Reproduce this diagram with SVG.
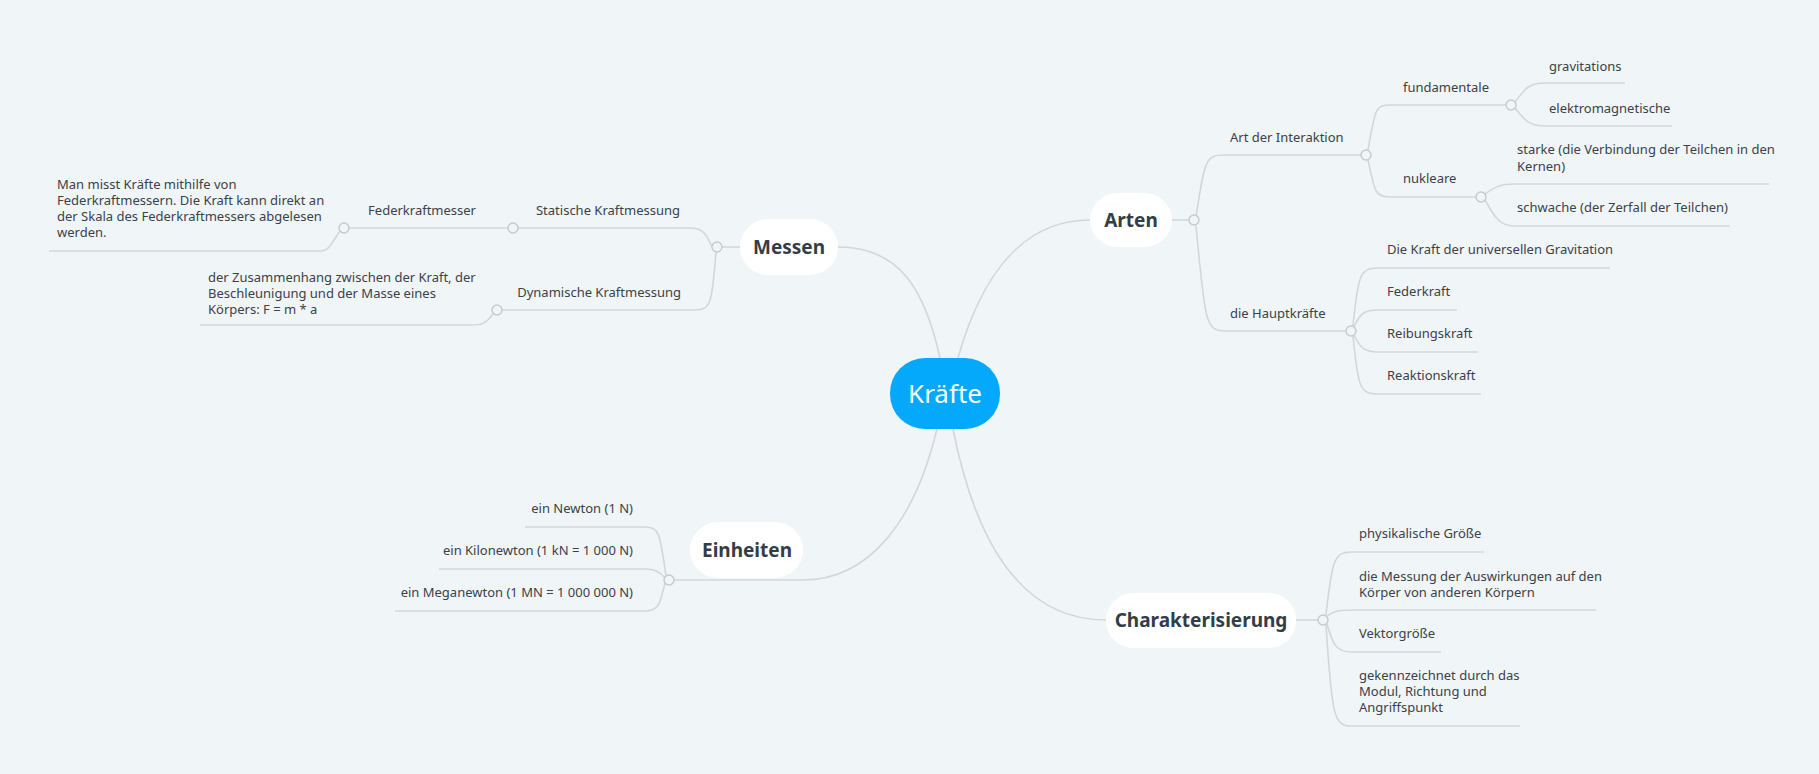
<svg xmlns="http://www.w3.org/2000/svg" width="1819" height="774" viewBox="0 0 1819 774">
<style>
.c{fill:none;stroke:#d3d7db;stroke-width:1.6}
.d{fill:#f0f5f8;stroke:#c5cacf;stroke-width:1.4}
.t{font-family:"Noto Sans","Open Sans",sans-serif;font-size:13px;fill:#3b4249}
.n{font-family:"Noto Sans","Open Sans",sans-serif;font-size:19px;font-weight:bold;fill:#333d47;text-anchor:middle}
.b{fill:#ffffff}
.r{text-anchor:end}
</style>
<rect width="1819" height="774" fill="#f0f5f8"/>
<g id="connectors">
<path class="c" d="M940 358 C925 290,900 247,838 247"/>
<path class="c" d="M958 358 C980 280,1020 220,1090 220"/>
<path class="c" d="M937 429 C915 520,870 580,803 580 L674 580"/>
<path class="c" d="M953 429 C975 540,1020 620,1106 620"/>
<path class="c" d="M740 247 L722 247"/>
<path class="c" d="M712 247 C705 230,700 228,689 228 L518 228"/>
<path class="c" d="M716 252 C712 300,712 310,695 310 L502 310"/>
<path class="c" d="M508 228 L349 228"/>
<path class="c" d="M340 231 C330 245,330 251,318 251 L49 251"/>
<path class="c" d="M493 314 C485 325,480 325,470 325 L200 325"/>
<path class="c" d="M1172 220 L1189 220"/>
<path class="c" d="M1196 216 C1205 160,1205 155,1225 155 L1361 155"/>
<path class="c" d="M1196 226 C1205 320,1205 331,1225 331 L1346 331"/>
<path class="c" d="M1368 150 C1375 110,1375 105,1390 105 L1506 105"/>
<path class="c" d="M1368 160 C1375 192,1375 197,1390 197 L1476 197"/>
<path class="c" d="M1515 102 C1525 88,1530 83,1545 83 L1625 83"/>
<path class="c" d="M1515 108 C1525 121,1530 126,1545 126 L1672 126"/>
<path class="c" d="M1485 194 C1495 187,1500 184,1515 184 L1769 184"/>
<path class="c" d="M1485 200 C1495 218,1500 226,1515 226 L1730 226"/>
<path class="c" d="M1353 326 C1358 275,1360 268,1378 268 L1610 268"/>
<path class="c" d="M1354 327 C1360 313,1365 310,1378 310 L1457 310"/>
<path class="c" d="M1354 335 C1360 348,1365 352,1378 352 L1478 352"/>
<path class="c" d="M1353 336 C1358 388,1360 394,1378 394 L1481 394"/>
<path class="c" d="M1296 620 L1318 620"/>
<path class="c" d="M1326 615 C1332 560,1334 552,1352 552 L1484 552"/>
<path class="c" d="M1327 616 C1333 612,1336 610,1352 610 L1596 610"/>
<path class="c" d="M1327 624 C1333 645,1336 652,1352 652 L1441 652"/>
<path class="c" d="M1326 625 C1332 718,1334 726,1352 726 L1520 726"/>
<path class="c" d="M666 576 C660 535,660 527,645 527 L525 527"/>
<path class="c" d="M665 578 C660 572,655 569,645 569 L439 569"/>
<path class="c" d="M665 583 C660 605,658 611,645 611 L395 611"/>
</g>
<g id="dots">
<circle class="d" cx="717" cy="247" r="5"/><circle class="d" cx="513" cy="228" r="5"/><circle class="d" cx="344" cy="228" r="5"/><circle class="d" cx="497" cy="310" r="5"/>
<circle class="d" cx="1194" cy="220" r="5"/><circle class="d" cx="1366" cy="155" r="5"/><circle class="d" cx="1351" cy="331" r="5"/><circle class="d" cx="1511" cy="105" r="5"/><circle class="d" cx="1481" cy="197" r="5"/>
<circle class="d" cx="1323" cy="620" r="5"/><circle class="d" cx="669" cy="580" r="5"/>
</g>
<g id="kraefte"><rect x="890" y="358" width="110" height="71" rx="35" fill="#04a9fc"/><text x="945" y="403" font-family="Noto Sans,sans-serif" font-size="26" fill="#fff" text-anchor="middle">Kräfte</text></g>
<g id="messen"><rect class="b" x="740" y="219" width="98" height="56" rx="28"/><text class="n" x="789" y="254">Messen</text></g>
<g id="arten"><rect class="b" x="1090" y="193" width="82" height="54" rx="27"/><text class="n" x="1131" y="227">Arten</text></g>
<g id="einheiten"><rect class="b" x="690" y="522" width="113" height="56" rx="28"/><text class="n" x="747" y="557">Einheiten</text></g>
<g id="charakterisierung"><rect class="b" x="1106" y="593" width="190" height="55" rx="27"/><text class="n" x="1201" y="627">Charakterisierung</text></g>
<g id="labels">
<text class="t r" x="680" y="215">Statische Kraftmessung</text>
<text class="t r" x="476" y="215">Federkraftmesser</text>
<text class="t" x="57" y="189">Man misst Kräfte mithilfe von</text>
<text class="t" x="57" y="205">Federkraftmessern. Die Kraft kann direkt an</text>
<text class="t" x="57" y="221">der Skala des Federkraftmessers abgelesen</text>
<text class="t" x="57" y="237">werden.</text>
<text class="t r" x="681" y="297">Dynamische Kraftmessung</text>
<text class="t" x="208" y="282">der Zusammenhang zwischen der Kraft, der</text>
<text class="t" x="208" y="298">Beschleunigung und der Masse eines</text>
<text class="t" x="208" y="314">Körpers:  F = m * a</text>
<text class="t" x="1230" y="142">Art der Interaktion</text>
<text class="t" x="1230" y="318">die Hauptkräfte</text>
<text class="t" x="1403" y="92">fundamentale</text>
<text class="t" x="1403" y="183">nukleare</text>
<text class="t" x="1549" y="71">gravitations</text>
<text class="t" x="1549" y="113">elektromagnetische</text>
<text class="t" x="1517" y="154">starke (die Verbindung der Teilchen in den</text>
<text class="t" x="1517" y="171">Kernen)</text>
<text class="t" x="1517" y="212">schwache (der Zerfall der Teilchen)</text>
<text class="t" x="1387" y="254">Die Kraft der universellen Gravitation</text>
<text class="t" x="1387" y="296">Federkraft</text>
<text class="t" x="1387" y="338">Reibungskraft</text>
<text class="t" x="1387" y="380">Reaktionskraft</text>
<text class="t r" x="633" y="513">ein Newton (1 N)</text>
<text class="t r" x="633" y="555">ein Kilonewton (1 kN = 1 000 N)</text>
<text class="t r" x="633" y="597">ein Meganewton (1 MN = 1 000 000 N)</text>
<text class="t" x="1359" y="538">physikalische Größe</text>
<text class="t" x="1359" y="581">die Messung der Auswirkungen auf den</text>
<text class="t" x="1359" y="597">Körper von anderen Körpern</text>
<text class="t" x="1359" y="638">Vektorgröße</text>
<text class="t" x="1359" y="680">gekennzeichnet durch das</text>
<text class="t" x="1359" y="696">Modul, Richtung und</text>
<text class="t" x="1359" y="712">Angriffspunkt</text>
</g>
</svg>
